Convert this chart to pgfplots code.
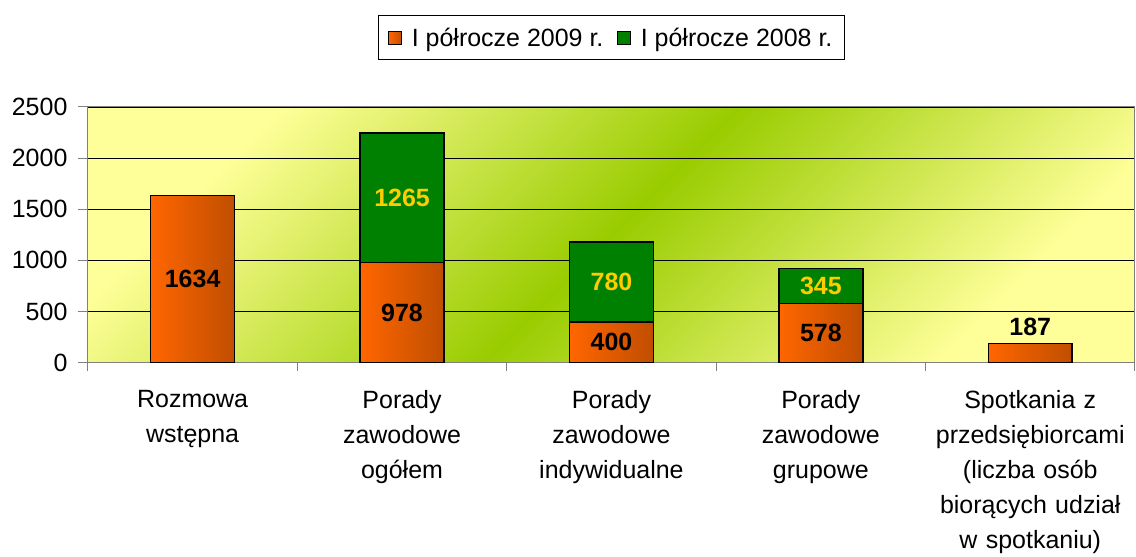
\documentclass[border=0pt]{standalone}
\usepackage{fontspec}
\setmainfont{Liberation Sans}
\usepackage{pgfplots}
\usepackage{pgfplotstable}
\pgfplotsset{compat=1.18}
\definecolor{orangeL}{RGB}{255,102,0}
\definecolor{orangeR}{RGB}{192,78,0}
\definecolor{barGreen}{RGB}{0,128,0}
\definecolor{bgYellow}{RGB}{255,255,153}
\definecolor{bgGreen}{RGB}{153,204,0}
\definecolor{labYellow}{RGB}{255,204,0}

% x = category, a = I półrocze 2009 r., b = I półrocze 2008 r.
\pgfplotstableread{
x a b
0 1634 0
1 978 1265
2 400 780
3 578 345
4 187 0
}\data

\begin{document}
\begin{tikzpicture}
% page frame, same proportions as the reference (1 px = 1 pt)
\path (-88pt,-184pt) rectangle (1048pt,363pt);
\begin{axis}[
  at={(0,0)}, anchor=south west,
  scale only axis, width=1048pt, height=256pt,
  ybar, bar width=84pt, bar shift=0pt,
  xmin=-0.5, xmax=4.5, ymin=0, ymax=2500,
  ytick={0,500,...,2500},
  xtick={0,...,4},
  xticklabels={{Rozmowa\\wstępna},{Porady\\zawodowe\\ogółem},{Porady\\zawodowe\\indywidualne},{Porady\\zawodowe\\grupowe},{Spotkania z\\przedsiębiorcami\\(liczba osób\\biorących udział\\w spotkaniu)}},
  minor xtick={-0.5,0.5,...,4.5},
  major x tick style={draw=none},
  tick align=outside, tick pos=left,
  major tick length=10pt, minor tick length=8pt,
  tick style={gray, line width=1pt},
  axis line style={gray, line width=1pt},
  ymajorgrids, grid style={black, line width=0.8pt},
  /pgf/number format/assume math mode=true,
  /pgf/number format/1000 sep={},
  yticklabel style={font=\fontsize{25}{30}\selectfont, xshift=-7pt},
  xticklabel style={align=center, text width=205pt, yshift=-14pt,
    font=\fontsize{25}{35}\selectfont},
  axis background/.style={top color=bgYellow, bottom color=bgYellow,
    middle color=bgGreen, shading angle=45},
  legend style={at={(0.5,1)}, anchor=south, yshift=47pt, draw=black,
    line width=0.8pt, inner xsep=10pt, inner ysep=10pt,
    font=\fontsize{25}{30}\selectfont, legend columns=2,
    /tikz/every even column/.append style={column sep=12pt}},
  nodes near coords={\pgfmathfloatifflags{\pgfplotspointmeta}{0}{}{\pgfmathprintnumber{\pgfplotspointmeta}}},
  every node near coord/.append style={anchor=center,
    font=\fontsize{25}{30}\selectfont\bfseries},
]
% 2008 part, stacked on top of the 2009 part
\addplot[draw=black, line width=1.5pt, fill=barGreen, forget plot,
  point meta=explicit,
  visualization depends on=\thisrow{b} \as \bval,
  every node near coord/.append style={text=labYellow,
    shift={(axis direction cs:0,-\bval/2)}}]
  table[x=x, y expr=\thisrow{a}+\thisrow{b}, meta=b] {\data};
% 2009 part, one bar per plot so that each bar gets its own gradient
\pgfplotsinvokeforeach{0,...,4}{
\addplot[draw=black, line width=1.5pt, left color=orangeL, right color=orangeR,
  forget plot, restrict x to domain=#1:#1,
  point meta=explicit,
  visualization depends on=\thisrow{a} \as \aval,
  every node near coord/.append style={text=black,
    shift={(axis direction cs:0,{\aval<300 ? 165 : -\aval/2})}}]
  table[x=x, y=a, meta=a] {\data};
}
\addlegendimage{legend image code/.code={
    \draw[draw=black, line width=0.8pt, left color=orangeL, right color=orangeR]
      (0pt,-6.5pt) rectangle (13pt,6.5pt);
    \path[draw=none] (13pt,0pt) -- (21pt,0pt);}}
\addlegendentry{I półrocze 2009 r.}
\addlegendimage{legend image code/.code={
    \draw[draw=black, line width=0.8pt, fill=barGreen]
      (0pt,-6.5pt) rectangle (13pt,6.5pt);
    \path[draw=none] (13pt,0pt) -- (21pt,0pt);}}
\addlegendentry{I półrocze 2008 r.}
\end{axis}
\end{tikzpicture}
\end{document}
